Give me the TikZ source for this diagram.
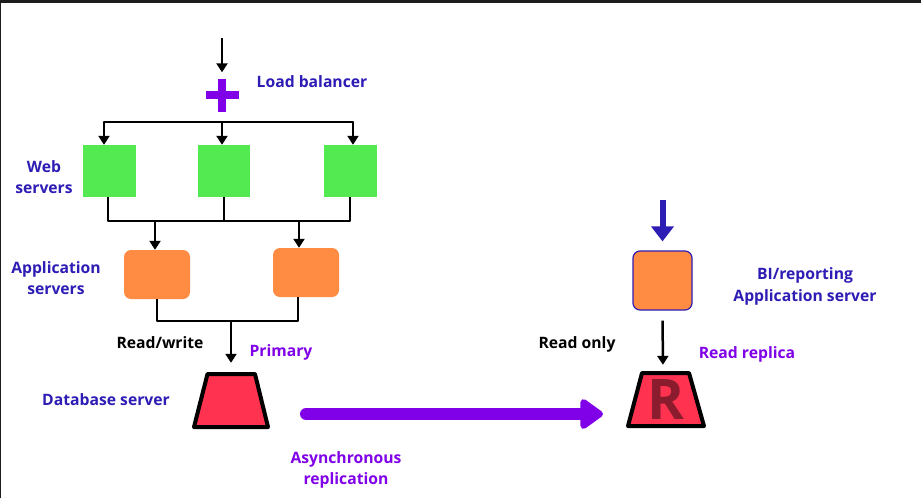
\documentclass[tikz,border=0pt]{standalone}
\usepackage{fontspec}
\setmainfont{Open Sans}
\usetikzlibrary{arrows.meta}
\definecolor{dblue}{HTML}{2E1DB5}
\definecolor{vio}{HTML}{8000E8}
\definecolor{webgreen}{HTML}{52EA50}
\definecolor{apporange}{HTML}{FF8C42}
\definecolor{dbred}{HTML}{FF3350}
\definecolor{rdark}{HTML}{8A1C2E}
\definecolor{topbar}{HTML}{1C1C1E}
\begin{document}
\begin{tikzpicture}[x=1pt,y=-1pt,
  lbl/.style={font=\fontsize{15.7}{21.5}\selectfont\bfseries, align=center, inner sep=0pt},
  web/.style={fill=webgreen, minimum width=53pt, minimum height=52pt, inner sep=0pt},
  app/.style={fill=apporange, rounded corners=7pt, minimum width=66pt, minimum height=49pt, inner sep=0pt},
  anchorbox/.style={minimum width=74pt, minimum height=53pt, inner sep=0pt},
  trap/.style={draw=black, line width=4pt, fill=dbred, line join=round},
  wire/.style={draw=black, line width=2.5pt},
  conn/.style={wire, -{Triangle[width=11pt,length=9pt]}},
]
\useasboundingbox (0,0) rectangle (921,498);
\fill[white] (0,0) rectangle (921,498);
\fill[topbar] (0,0) rectangle (921,3);
\fill[topbar] (0,0) rectangle (1.2,498);

% load balancer
\node[minimum size=33pt, inner sep=0pt] (lbp) at (222,95) {};
\fill[vio] ([xshift=-16.5pt,yshift=4pt]lbp.center) rectangle ([xshift=16.5pt,yshift=-4pt]lbp.center);
\fill[vio] ([xshift=-4pt,yshift=16.5pt]lbp.center) rectangle ([xshift=4pt,yshift=-16.5pt]lbp.center);
\node[lbl, text=dblue] (lbt) at (312,82) {Load balancer};
\coordinate (in1) at (222,38);
\draw[conn, shorten >=6pt] (in1) -- (lbp.north);

% web servers
\node[web] (w1) at (109.5,171) {};
\node[web, minimum width=52pt] (w2) at (224,171) {};
\node[web] (w3) at (350.5,171) {};
\node[lbl, text=dblue] (wst) at (44,177) {Web\\servers};
\coordinate (br) at (222,122);
\coordinate (bl) at (104,122);
\coordinate (brr) at (353,122);
\draw[wire, line cap=round] (bl) -- (brr);
\draw[conn] (bl) -- (bl |- w1.north);
\draw[conn] (br) -- (br |- w2.north);
\draw[conn] (brr) -- (brr |- w3.north);

% application servers
\node[app] (a1) at (157,274.5) {};
\node[app] (a2) at (306,272.5) {};
\node[lbl, text=dblue] (ast) at (56,278) {Application\\servers};
\coordinate (bj) at (0,221);
\coordinate (w1o) at (108,197);
\coordinate (w3o) at (350,197);
\draw[wire, line join=round] (w1o) -- (w1o |- bj) -- (w3o |- bj) -- (w3o);
\draw[wire] (w2.south) -- (w2.south |- bj);
\coordinate (a1in) at (155,221);
\coordinate (a2in) at (299,221);
\draw[conn] (a1in) -- (a1in |- a1.north);
\draw[conn] (a2in) -- (a2in |- a2.north);

% database (primary)
\node[anchorbox] (db) at (231,400.5) {};
\draw[trap] (207.5,374) -- (255,374) -- (268,427) -- (194,427) -- cycle;
\node[lbl, text=dblue] (dbt) at (106,400) {Database server};
\coordinate (aj) at (0,321);
\coordinate (a2o) at (298,297);
\draw[wire, line join=round] (a1.south) -- (a1.south |- aj) -- (a2o |- aj) -- (a2o);
\coordinate (dbin) at (231,321);
\draw[conn, shorten >=11pt] (dbin) -- (db.north);
\node[lbl] (rwt) at (160,343) {Read/write};
\node[lbl, text=vio] (prt) at (281,352) {Primary};

% replication
\coordinate (rs) at (306,414);
\coordinate (re) at (603,414);
\draw[vio, line width=12pt, line cap=round, -{Triangle[width=34pt,length=25pt,round]}] (rs) -- (re);
\node[lbl, text=vio] (ast2) at (346,470) {Asynchronous\\replication};

% BI / reporting
\node[app, minimum width=59pt, minimum height=59pt, draw=dblue, line width=1.2pt] (bi) at (662.5,280.5) {};
\node[lbl, text=dblue] (bit) at (805,286.5) {BI/reporting\\Application server};
\coordinate (biin) at (662.5,200);
\draw[dblue, line width=6pt, shorten >=9pt, -{Triangle[width=22pt,length=15pt]}] (biin) -- (bi.north);

% read replica
\node[anchorbox] (rep) at (663,399.5) {};
\draw[trap] (642,373) -- (689,373) -- (704,426) -- (628,426) -- cycle;
\node[font=\fontsize{56}{56}\selectfont\bfseries, text=rdark, inner sep=0pt] (rl) at (666,400) {R};
\draw[conn, shorten <=10pt, shorten >=8pt] (bi.south) -- (rep.north);
\node[lbl] (rot) at (577,344) {Read only};
\node[lbl, text=vio] (rrt) at (747,354) {Read replica};
\end{tikzpicture}
\end{document}
